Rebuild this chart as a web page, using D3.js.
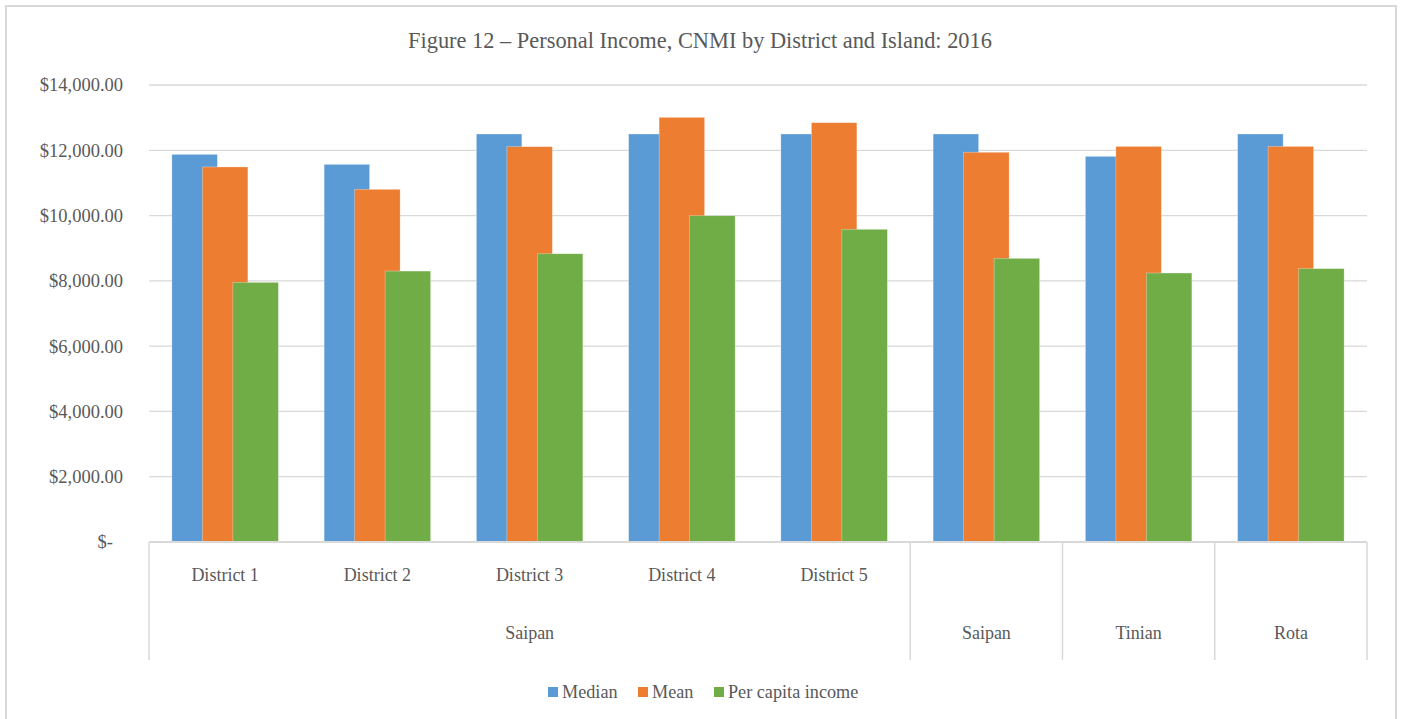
<!DOCTYPE html>
<html>
<head>
<meta charset="utf-8">
<script src="https://cdn.jsdelivr.net/npm/d3@7"></script>
<style>
  body { margin: 0; background: #fff; }
  svg text { font-family: "Liberation Serif", "Times New Roman", serif; fill: #595959; }
</style>
</head>
<body>
<div id="chart"></div>
<script>
// Data
const districts = ["District 1", "District 2", "District 3", "District 4", "District 5", "", "", ""];
const islands = ["Saipan", "Saipan", "Tinian", "Rota"];
const islandSpans = [5, 1, 1, 1];
const seriesNames = ["Median", "Mean", "Per capita income"];
const median = [11875, 11570, 12500, 12500, 12500, 12500, 11815, 12500];
const mean = [11490, 10805, 12110, 13010, 12845, 11940, 12120, 12120];
const perCapita = [7955, 8300, 8830, 9995, 9580, 8690, 8240, 8375];
const yTicks = [0, 2000, 4000, 6000, 8000, 10000, 12000, 14000];

const colors = ["#5b9bd5", "#ed7d31", "#70ad47"];
const series = [median, mean, perCapita];

const width = 1403;
const height = 719;
const m = { left: 149, right: 1367, top: 85, bottom: 542 };

const svg = d3
  .select("#chart")
  .append("svg")
  .attr("width", width)
  .attr("height", height);

// chart border
svg
  .append("rect")
  .attr("x", 6)
  .attr("y", 6)
  .attr("width", 1390)
  .attr("height", 730)
  .attr("fill", "none")
  .attr("stroke", "#d9d9d9")
  .attr("stroke-width", 2);

svg
  .append("text")
  .attr("x", 700)
  .attr("y", 48)
  .attr("text-anchor", "middle")
  .style("font-size", "22.4px")
  .text("Figure 12 \u2013 Personal Income, CNMI by District and Island: 2016");

const x = d3
  .scaleBand()
  .domain(d3.range(districts.length))
  .range([m.left, m.right])
  .padding(0);

const y = d3.scaleLinear().domain([0, 14000]).range([m.bottom, m.top]);

// gridlines
svg
  .append("g")
  .selectAll("line")
  .data(yTicks.slice(1))
  .enter()
  .append("line")
  .attr("x1", m.left)
  .attr("x2", m.right)
  .attr("y1", d => y(d))
  .attr("y2", d => y(d))
  .attr("stroke", "#d9d9d9")
  .attr("stroke-width", 1.3);

// y axis labels
const yAxis = svg
  .append("g")
  .attr("transform", "translate(123,0)")
  .call(
    d3
      .axisLeft(y)
      .tickValues(yTicks)
      .tickSize(0)
      .tickPadding(0)
      .tickFormat(d => (d === 0 ? "$-" : "$" + d3.format(",.2f")(d)))
  );
yAxis.select(".domain").remove();
yAxis
  .selectAll("text")
  .style("font-size", "18.5px")
  .attr("dx", d => (d === 0 ? -10 : 0));

// bars: Excel style, gap width 100%, overlap ~33%
const bw = x.bandwidth();
const barW = bw * 0.299;
const step = barW * 0.67;
const offset = (bw - (barW + 2 * step)) / 2;

series.forEach((vals, si) => {
  svg
    .append("g")
    .selectAll("rect")
    .data(vals)
    .enter()
    .append("rect")
    .attr("x", (d, i) => x(i) + offset + si * step)
    .attr("y", d => y(d))
    .attr("width", barW)
    .attr("height", d => y(0) - y(d))
    .attr("fill", colors[si])
    .attr("stroke", "#fff")
    .attr("stroke-opacity", 0.5)
    .attr("stroke-width", 0.6);
});

// category axis
const axisBottom = 660;
svg
  .append("line")
  .attr("x1", m.left)
  .attr("x2", m.right)
  .attr("y1", y(0))
  .attr("y2", y(0))
  .attr("stroke", "#d9d9d9")
  .attr("stroke-width", 2);

let start = 0;
const bounds = [0];
islandSpans.forEach(s => {
  start += s;
  bounds.push(start);
});

svg
  .append("g")
  .selectAll("line")
  .data(bounds)
  .enter()
  .append("line")
  .attr("x1", d => (d < districts.length ? x(d) : m.right))
  .attr("x2", d => (d < districts.length ? x(d) : m.right))
  .attr("y1", y(0))
  .attr("y2", axisBottom)
  .attr("stroke", "#d9d9d9")
  .attr("stroke-width", 1.5);

svg
  .append("g")
  .selectAll("text")
  .data(districts)
  .enter()
  .append("text")
  .attr("x", (d, i) => x(i) + bw / 2)
  .attr("y", 581)
  .attr("text-anchor", "middle")
  .style("font-size", "18px")
  .text(d => d);

svg
  .append("g")
  .selectAll("text")
  .data(islands)
  .enter()
  .append("text")
  .attr("x", (d, i) => {
    const a = x(bounds[i]);
    const b = bounds[i + 1] < districts.length ? x(bounds[i + 1]) : m.right;
    return (a + b) / 2;
  })
  .attr("y", 639)
  .attr("text-anchor", "middle")
  .style("font-size", "18px")
  .text(d => d);

// legend
const legendX = [548, 638, 714];
const legend = svg
  .append("g")
  .selectAll("g")
  .data(seriesNames)
  .enter()
  .append("g")
  .attr("transform", (d, i) => "translate(" + legendX[i] + ",687)");

legend
  .append("rect")
  .attr("width", 10)
  .attr("height", 10)
  .attr("fill", (d, i) => colors[i]);

legend
  .append("text")
  .attr("x", 14)
  .attr("y", 11)
  .style("font-size", "18.2px")
  .text(d => d);
</script>
</body>
</html>
